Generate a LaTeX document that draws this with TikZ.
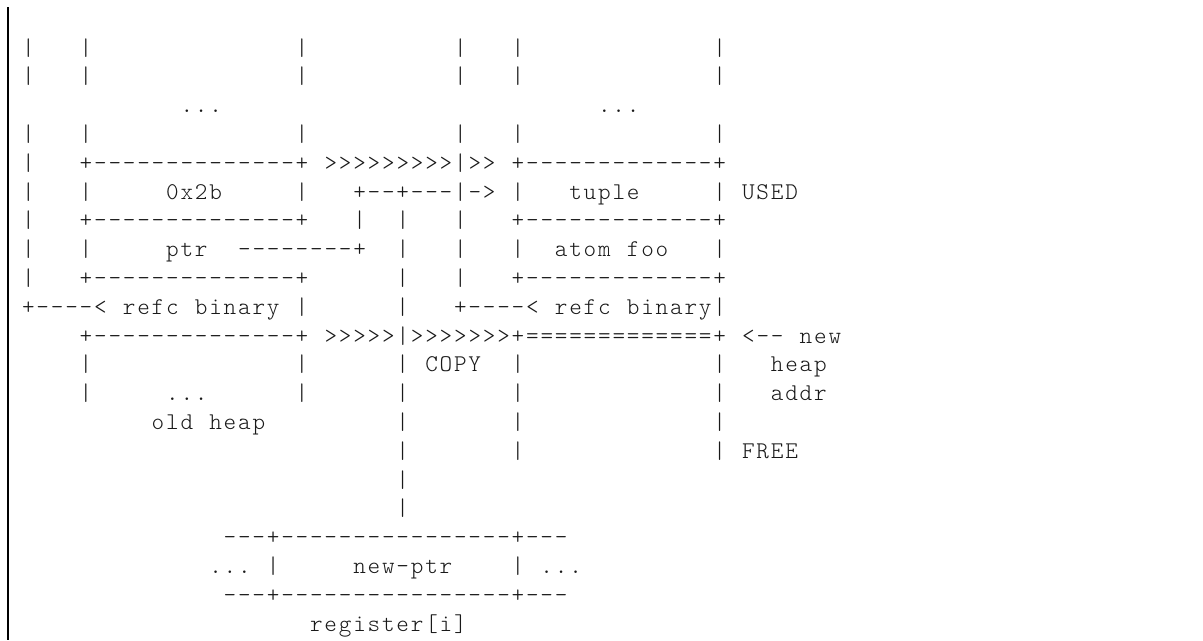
\documentclass[tikz,border=0pt]{standalone}
\usepackage{fontspec}
\newfontfamily\asciifont{lmmonolt10-regular.otf}[Ligatures=TeXOff]
\newlength\cw
\setlength\cw{10.8pt}
\makeatletter
\def\skp{\relax}
\def\asc#1{\asc@loop#1\@nil}
\def\asc@loop#1{%
  \ifx#1\@nil\expandafter\@gobble\else\expandafter\@firstofone\fi
  {\ifx#1\skp\expandafter\asc@skip\else\asc@char{#1}\expandafter\asc@loop\fi}}
\def\asc@skip#1{\kern#1\cw\relax\asc@loop}
\def\asc@char#1{\hbox to\cw{\hss#1\hss}}
\makeatother
\tikzset{
  txtline/.style={anchor=base west, inner sep=0pt, outer sep=0pt,
    font=\asciifont\fontsize{18}{21.6}\selectfont, text=black!90},
  leftbar/.style={line width=1.5pt, draw=black}
}
\begin{document}
\begin{tikzpicture}[x=0.75pt, y=-0.75pt]
\useasboundingbox (0,0) rectangle (1203,640);
\fill[white] (0,0) rectangle (1203,640);
\coordinate (bartop) at (7.5,7);
\coordinate (barbot) at (7.5,640);
\draw[leftbar] (bartop) -- (barbot);
\node[txtline] (l0)  at (21.2,55.0)  {\asc{|\skp{3}|\skp{14}|\skp{10}|\skp{3}|\skp{13}|}};
\node[txtline] (l1)  at (21.2,83.8)  {\asc{|\skp{3}|\skp{14}|\skp{10}|\skp{3}|\skp{13}|}};
\node[txtline] (l2)  at (21.2,112.6) {\asc{\skp{11}...\skp{26}...}};
\node[txtline] (l3)  at (21.2,141.4) {\asc{|\skp{3}|\skp{14}|\skp{10}|\skp{3}|\skp{13}|}};
\node[txtline] (l4)  at (21.2,170.2) {\asc{|\skp{3}+--------------+\skp{1}>>>>>>>>>|>>\skp{1}+-------------+}};
\node[txtline] (l5)  at (21.2,199.0) {\asc{|\skp{3}|\skp{5}0x2b\skp{5}|\skp{3}+--+---|->\skp{1}|\skp{3}tuple\skp{5}|\skp{1}USED}};
\node[txtline] (l6)  at (21.2,227.8) {\asc{|\skp{3}+--------------+\skp{3}|\skp{2}|\skp{3}|\skp{3}+-------------+}};
\node[txtline] (l7)  at (21.2,256.6) {\asc{|\skp{3}|\skp{5}ptr\skp{2}--------+\skp{2}|\skp{3}|\skp{3}|\skp{2}atom\skp{1}foo\skp{3}|}};
\node[txtline] (l8)  at (21.2,285.4) {\asc{|\skp{3}+--------------+\skp{6}|\skp{3}|\skp{3}+-------------+}};
\node[txtline] (l9)  at (21.2,314.2) {\asc{+----<\skp{1}refc\skp{1}binary\skp{1}|\skp{6}|\skp{3}+----<\skp{1}refc\skp{1}binary|}};
\node[txtline] (l10) at (21.2,343.0) {\asc{\skp{4}+--------------+\skp{1}>>>>>|>>>>>>>+=============+\skp{1}<--\skp{1}new}};
\node[txtline] (l11) at (21.2,371.8) {\asc{\skp{4}|\skp{14}|\skp{6}|\skp{1}COPY\skp{2}|\skp{13}|\skp{3}heap}};
\node[txtline] (l12) at (21.2,400.6) {\asc{\skp{4}|\skp{5}...\skp{6}|\skp{6}|\skp{7}|\skp{13}|\skp{3}addr}};
\node[txtline] (l13) at (21.2,429.4) {\asc{\skp{9}old\skp{1}heap\skp{9}|\skp{7}|\skp{13}|}};
\node[txtline] (l14) at (21.2,458.2) {\asc{\skp{26}|\skp{7}|\skp{13}|\skp{1}FREE}};
\node[txtline] (l15) at (21.2,487.0) {\asc{\skp{26}|}};
\node[txtline] (l16) at (21.2,515.8) {\asc{\skp{26}|}};
\node[txtline] (l17) at (21.2,544.6) {\asc{\skp{14}---+----------------+---}};
\node[txtline] (l18) at (21.2,573.4) {\asc{\skp{13}...\skp{1}|\skp{5}new-ptr\skp{4}|\skp{1}...}};
\node[txtline] (l19) at (21.2,602.2) {\asc{\skp{14}---+----------------+---}};
\node[txtline] (l20) at (21.2,631.0) {\asc{\skp{20}register[i]}};
\end{tikzpicture}
\end{document}
